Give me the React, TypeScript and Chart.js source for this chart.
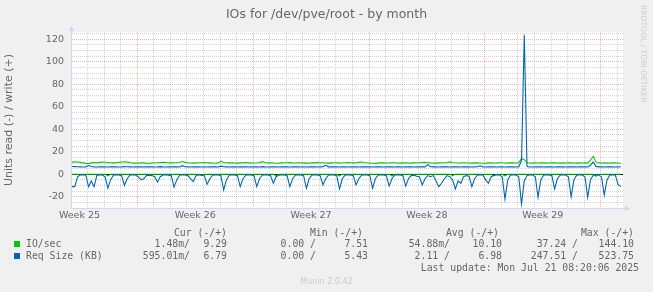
import React, { useEffect, useRef } from 'react';
import { Chart, registerables } from 'chart.js';

Chart.register(...registerables);

// ---- time axis (days, 0 = Monday of Week 26) ----
const START_DAY = -3.95;
const STEP_DAY = 4 / 24; // one sample every 4 hours
const X_MIN = -3.95;
const X_MAX = 29.35;
const Y_MIN = -30;
const Y_MAX = 126.5;

// ---- series (one value per 4h sample) ----
const IO_WRITE = [
  10.8, 11.0, 10.9, 10.6, 10.2, 9.7, 9.6, 10.1, 10.4, 10.3, 10.6, 10.8,
  10.7, 10.5, 10.2, 10.1, 10.3, 10.6, 10.9, 11.1, 10.8, 10.4, 10.0, 9.9,
  10.0, 10.2, 10.1, 9.8, 9.7, 10.0, 10.3, 10.2, 10.4, 10.6, 10.5, 10.2,
  10.1, 10.3, 10.4, 10.7, 11.3, 10.6, 10.2, 10.0, 9.9, 10.1, 10.3, 10.2,
  10.4, 10.2, 10.1, 10.0, 9.8, 10.1, 11.5, 10.4, 10.2, 10.1, 10.3, 10.0,
  9.9, 10.1, 10.2, 10.4, 10.3, 10.1, 10.0, 10.2, 10.5, 11.2, 10.4, 10.1,
  10.2, 10.0, 9.8, 9.9, 10.1, 10.3, 10.2, 10.4, 10.1, 10.0, 10.2, 10.3,
  10.1, 9.9, 10.0, 10.2, 10.1, 10.4, 10.3, 10.2, 10.0, 9.9, 10.1, 10.2,
  10.3, 10.1, 10.0, 10.2, 10.4, 10.2, 10.1, 10.3, 10.6, 10.9, 10.4, 10.2,
  10.0, 9.8, 9.7, 9.9, 10.1, 10.2, 10.0, 10.1, 10.3, 10.2, 10.0, 9.9,
  10.1, 10.2, 10.0, 9.9, 10.1, 10.3, 10.2, 10.4, 10.6, 10.3, 10.1, 10.0,
  9.9, 10.1, 10.3, 10.2, 10.4, 11.0, 10.5, 10.2, 10.0, 10.1, 10.3, 10.2,
  10.0, 9.9, 10.1, 10.2, 10.0, 9.8, 9.9, 10.1, 10.2, 10.0, 10.1, 10.3,
  10.2, 10.0, 9.9, 10.1, 10.2, 10.0, 10.3, 14.0, 13.0, 10.2, 10.0, 9.9,
  10.1, 10.0, 10.2, 10.1, 9.9, 10.0, 10.2, 10.1, 10.0, 9.9, 10.1, 10.0,
  10.1, 10.2, 10.0, 9.9, 10.1, 10.0, 10.2, 10.1, 12.5, 16.0, 11.0, 10.1,
  10.0, 10.1, 9.9, 10.0, 10.2, 10.1, 10.0, 9.8,
];

const IO_READ = [
  0, 0, 0, 0, 0, 0, 0, 0, 0, 0, 0, 0,
  0, -1.5, 0, 0, 0, 0, 0, 0, 0, 0, 0, 0,
  0, 0, 0, 0, 0, 0, 0, 0, 0, 0, 0, 0,
  0, 0, 0, 0, 0, 0, 0, 0, 0, 0, 0, -1.2,
  0, 0, 0, 0, 0, 0, 0, 0, 0, 0, 0, 0,
  0, 0, 0, 0, 0, 0, 0, 0, 0, 0, 0, 0,
  0, 0, -1.5, 0, 0, 0, 0, 0, 0, 0, 0, 0,
  0, 0, 0, 0, 0, 0, 0, 0, 0, 0, 0, 0,
  0, -1.5, 0, 0, 0, 0, 0, 0, 0, 0, 0, 0,
  0, 0, 0, 0, 0, 0, 0, 0, -1.5, 0, 0, 0,
  0, 0, 0, 0, 0, 0, 0, 0, 0, 0, 0, 0,
  0, 0, 0, 0, 0, 0, -1.2, 0, 0, 0, 0, 0,
  0, 0, 0, 0, 0, 0, 0, 0, 0, -1.5, 0, 0,
  0, -1.5, 0, 0, 0, 0, 0, 0, 0, 0, 0, 0,
  0, 0, 0, 0, 0, 0, 0, 0, 0, 0, 0, 0,
  0, 0, 0, 0, 0, 0, 0, 0, 0, 0, -1.8, 0,
  0, 0, 0, 0, 0, 0, 0, 0,
];

const SIZE_WRITE = [
  6.9, 6.8, 6.7, 6.6, 6.5, 6.6, 7.8, 6.9, 6.6, 6.5, 6.6, 6.7,
  6.6, 6.5, 6.6, 6.7, 6.6, 6.5, 6.6, 6.8, 6.7, 6.6, 6.5, 6.6,
  6.7, 6.6, 6.5, 6.6, 6.7, 6.6, 6.5, 6.6, 6.8, 6.6, 6.5, 6.6,
  6.6, 6.7, 6.6, 6.5, 7.6, 6.7, 6.6, 6.5, 6.6, 6.7, 6.6, 6.5,
  6.6, 6.5, 6.6, 6.7, 6.6, 6.5, 7.2, 6.7, 6.6, 6.5, 6.6, 6.6,
  6.5, 6.6, 6.7, 6.6, 6.5, 6.6, 6.7, 6.6, 6.5, 6.8, 6.6, 6.5,
  6.6, 6.7, 6.6, 6.5, 6.6, 6.7, 6.6, 6.5, 6.6, 6.7, 6.6, 6.5,
  6.6, 6.5, 6.6, 6.7, 6.6, 6.5, 6.6, 6.7, 8.0, 6.6, 6.6, 6.7,
  6.6, 6.5, 6.7, 6.6, 6.5, 6.6, 6.7, 6.6, 6.5, 6.6, 6.6, 6.7,
  6.6, 6.5, 6.6, 6.7, 6.6, 6.5, 6.6, 6.7, 6.6, 6.5, 6.6, 6.6,
  6.5, 6.6, 6.7, 6.6, 6.5, 6.6, 6.7, 6.6, 6.6, 8.6, 6.7, 6.6,
  6.6, 6.5, 6.6, 6.7, 6.6, 6.5, 6.6, 6.7, 6.6, 6.5, 6.6, 6.7,
  6.6, 6.5, 6.6, 6.7, 7.6, 6.6, 6.5, 6.6, 6.7, 6.6, 6.5, 6.6,
  6.6, 6.5, 6.6, 6.7, 6.6, 6.5, 6.6, 12.0, 124.0, 6.8, 6.6, 6.5,
  6.6, 6.7, 6.6, 6.5, 6.6, 6.7, 6.6, 6.5, 6.6, 6.7, 6.6, 6.5,
  6.6, 6.7, 6.6, 6.5, 6.6, 6.7, 6.6, 6.5, 8.0, 11.0, 7.0, 6.6,
  6.6, 6.5, 6.6, 6.7, 6.6, 6.5, 6.6, 6.7,
];

const SIZE_READ = [
  -11, -11, -2.2, -0.6, -0.4, -0.8, -11, -6, -11, -1.2, -0.4, -0.6,
  -2.2, -12.5, -5, -0.8, -0.4, -0.6, -1.2, -10, -4, -0.8, -0.4, -0.6,
  -2.2, -5, -4, -1.2, -0.8, -1.2, -2.2, -7, -2.2, -0.6, -0.4, -0.8,
  -1.2, -11.5, -5, -0.8, -0.4, -0.6, -1.2, -4, -6.5, -1.2, -0.4, -0.6,
  -1.2, -9, -4, -0.8, -0.4, -0.6, -1.2, -14, -5, -0.8, -0.4, -0.6,
  -1.2, -11, -4, -0.8, -0.4, -0.6, -1.2, -11, -4, -0.8, -0.4, -0.6,
  -1.2, -8, -2.2, -0.8, -0.4, -0.6, -1.2, -11, -4, -0.8, -0.4, -0.6,
  -1.2, -12.5, -4, -0.8, -0.4, -0.6, -1.2, -9.5, -4, -0.8, -0.4, -0.6,
  -1.2, -13, -4, -0.8, -0.4, -0.6, -1.2, -9.5, -4, -0.8, -0.4, -0.6,
  -1.2, -12.5, -4, -0.8, -0.4, -0.6, -1.2, -10.5, -4, -0.8, -0.4, -0.6,
  -1.2, -10.5, -4, -1.2, -0.8, -1.8, -2.2, -9.5, -4, -1.2, -2.2, -1.2,
  -6, -11, -8, -4, -1.2, -2.2, -5, -13, -6, -8, -2.2, -1.2,
  -1.8, -11, -4, -0.8, -0.4, -0.6, -5, -8, -2.2, -0.8, -0.4, -0.6,
  -2.2, -22, -5, -0.8, -0.4, -0.6, -2.2, -26.4, -6, -1.2, -0.4, -0.6,
  -2.2, -20.5, -5, -0.8, -0.4, -0.6, -1.2, -13, -4, -0.8, -0.4, -0.6,
  -2.2, -20, -5, -0.8, -0.4, -0.6, -2.2, -20.5, -5, -0.8, -0.4, -0.6,
  -2.2, -18.5, -5, -0.8, -0.4, -0.6, -9, -11,
];

// ---- axis ticks ----
const DAY_LINES = [-3, -2, -1, 0, 1, 2, 3, 4, 5, 6, 7, 8, 9, 10, 11, 12, 13, 14, 15, 16, 17, 18, 19, 20, 21, 22, 23, 24, 25, 26, 27, 28, 29];
const WEEK_LABEL_POS = [-3.5, 3.5, 10.5, 17.5, 24.5];
const WEEK_LABELS = ['Week 25', 'Week 26', 'Week 27', 'Week 28', 'Week 29'];
const Y_LINES = [-30, -25, -20, -15, -10, -5, 0, 5, 10, 15, 20, 25, 30, 35, 40, 45, 50, 55, 60, 65, 70, 75, 80, 85, 90, 95, 100, 105, 110, 115, 120, 125];

// ---- legend texts ----
const LEGEND_HEADERS = ['Cur (-/+)', 'Min (-/+)', 'Avg (-/+)', 'Max (-/+)'];
const IO_STATS = ['1.48m/', '9.29', '0.00 /', '7.51', '54.88m/', '10.10', '37.24 /', '144.10'];
const SIZE_STATS = ['595.01m/', '6.79', '0.00 /', '5.43', '2.11 /', '6.98', '247.51 /', '523.75'];

const GREEN = '#00CC00';
const BLUE = '#0066B3';
const FONT_COLOR = '#666666';
const AXIS_COLOR = '#CFD6F8';
const GRID = 'rgba(143,143,143,0.38)';
const MGRID = 'rgba(222,79,79,0.42)';
const SANS = "'DejaVu Sans', sans-serif";
const MONO = "'DejaVu Sans Mono', monospace";

const toPoints = (vals: number[]) => vals.map((y, i) => ({ x: START_DAY + i * STEP_DAY, y }));

const framePlugin = {
  id: 'frame',
  beforeDraw(chart: any) {
    const { ctx, chartArea: a } = chart;
    ctx.save();
    ctx.fillStyle = '#FFFFFF';
    ctx.fillRect(a.left, a.top, a.right - a.left, a.bottom - a.top);
    ctx.restore();
  },
  afterDraw(chart: any) {
    const { ctx, chartArea: a } = chart;
    const lx = a.left - 0.5;
    const by = a.bottom + 0.5;
    ctx.save();
    ctx.strokeStyle = AXIS_COLOR;
    ctx.fillStyle = AXIS_COLOR;
    ctx.lineWidth = 1;
    ctx.beginPath();
    ctx.moveTo(lx, by);
    ctx.lineTo(lx, a.top - 1);
    ctx.moveTo(lx, by);
    ctx.lineTo(a.right + 2, by);
    ctx.stroke();
    ctx.beginPath();
    ctx.moveTo(lx - 3, a.top - 1);
    ctx.lineTo(lx + 3, a.top - 1);
    ctx.lineTo(lx, a.top - 6);
    ctx.closePath();
    ctx.fill();
    ctx.beginPath();
    ctx.moveTo(a.right + 2, by - 3);
    ctx.lineTo(a.right + 2, by + 3);
    ctx.lineTo(a.right + 7, by);
    ctx.closePath();
    ctx.fill();
    ctx.restore();
  },
};

const STAT_RIGHT = [190, 227, 316, 368, 450, 502, 578, 634];
const HEADER_RIGHT = [227, 363, 499, 634];

export default function App() {
  const ref = useRef<HTMLCanvasElement>(null);

  useEffect(() => {
    const canvas = ref.current;
    if (!canvas) return;
    const common = { pointRadius: 0, borderWidth: 1.1, tension: 0, fill: false };
    const chart = new Chart(canvas, {
      type: 'line',
      data: {
        datasets: [
          { label: 'Req Size write', data: toPoints(SIZE_WRITE), borderColor: BLUE, ...common },
          { label: 'Req Size read', data: toPoints(SIZE_READ), borderColor: BLUE, ...common },
          { label: 'IO/sec write', data: toPoints(IO_WRITE), borderColor: GREEN, ...common },
          { label: 'IO/sec read', data: toPoints(IO_READ), borderColor: GREEN, ...common },
        ],
      },
      options: {
        animation: false,
        responsive: false,
        maintainAspectRatio: false,
        devicePixelRatio: 1,
        layout: { padding: { left: 0, right: 30, top: 32, bottom: 64 } },
        plugins: { legend: { display: false }, tooltip: { enabled: false }, title: { display: false } },
        scales: {
          x: {
            type: 'linear',
            min: X_MIN,
            max: X_MAX,
            afterBuildTicks: (s: any) => {
              s.ticks = [...DAY_LINES, ...WEEK_LABEL_POS].sort((p, q) => p - q).map((v) => ({ value: v }));
            },
            afterFit: (s: any) => {
              s.height = 20;
            },
            grid: {
              drawTicks: false,
              lineWidth: 1,
              color: (c: any) => {
                const v = c.tick ? c.tick.value : NaN;
                if (WEEK_LABEL_POS.includes(v)) return 'rgba(0,0,0,0)';
                return v % 7 === 0 ? MGRID : GRID;
              },
            },
            border: { display: false, dash: [1, 1] },
            ticks: {
              autoSkip: false,
              maxRotation: 0,
              minRotation: 0,
              padding: 2,
              color: FONT_COLOR,
              font: { family: SANS, size: 9.5 },
              callback: (v: any) => {
                const i = WEEK_LABEL_POS.indexOf(Number(v));
                return i >= 0 ? WEEK_LABELS[i] : '';
              },
            },
          },
          y: {
            type: 'linear',
            min: Y_MIN,
            max: Y_MAX,
            afterBuildTicks: (s: any) => {
              s.ticks = Y_LINES.map((v) => ({ value: v }));
            },
            afterFit: (s: any) => {
              s.width = 72;
            },
            grid: {
              drawTicks: false,
              lineWidth: 1,
              color: (c: any) => {
                const v = c.tick ? c.tick.value : NaN;
                if (v === 0) return '#000000';
                return v % 20 === 0 ? MGRID : GRID;
              },
            },
            border: {
              display: false,
              dash: (c: any) => (c.tick && c.tick.value === 0 ? [] : [1, 1]),
            },
            ticks: {
              autoSkip: false,
              padding: 8,
              color: FONT_COLOR,
              font: { family: SANS, size: 9.5 },
              callback: (v: any) => (Number(v) % 20 === 0 ? String(v) : ''),
            },
            title: {
              display: true,
              text: 'Units read (-) / write (+)',
              color: FONT_COLOR,
              font: { family: SANS, size: 11 },
              padding: { top: 3, bottom: 0 },
            },
          },
        },
      },
      plugins: [framePlugin],
    } as any);
    return () => chart.destroy();
  }, []);

  const abs = (extra: React.CSSProperties): React.CSSProperties => ({ position: 'absolute', whiteSpace: 'pre', ...extra });
  const mono: React.CSSProperties = { fontFamily: MONO, fontSize: '9.8px', lineHeight: '12px', color: FONT_COLOR };

  return (
    <div
      style={{
        position: 'fixed',
        left: 0,
        top: 0,
        width: 653,
        height: 292,
        background: '#F0F0F0',
        overflow: 'hidden',
        fontFamily: SANS,
      }}
    >
      <canvas ref={ref} width={653} height={292} style={{ position: 'absolute', left: 0, top: 0 }} />
      <div style={abs({ left: 0, top: 6, width: 653, textAlign: 'center', fontSize: '12.5px', lineHeight: '15px', color: FONT_COLOR })}>
        IOs for /dev/pve/root - by month
      </div>
      <div
        style={abs({
          left: 638,
          top: 5,
          writingMode: 'vertical-rl',
          fontSize: '7.6px',
          lineHeight: '10px',
          color: '#CCCCCC',
        })}
      >
        RRDTOOL / TOBI OETIKER
      </div>
      {LEGEND_HEADERS.map((h, i) => (
        <div key={h} style={abs({ ...mono, right: 653 - HEADER_RIGHT[i], top: 227 })}>
          {h}
        </div>
      ))}
      <div style={abs({ left: 14, top: 241, width: 6, height: 6, background: GREEN })} />
      <div style={abs({ ...mono, left: 26, top: 238 })}>IO/sec</div>
      {IO_STATS.map((s, i) => (
        <div key={'io' + i} style={abs({ ...mono, right: 653 - STAT_RIGHT[i], top: 238 })}>
          {s}
        </div>
      ))}
      <div style={abs({ left: 14, top: 253, width: 6, height: 6, background: BLUE })} />
      <div style={abs({ ...mono, left: 26, top: 250 })}>Req Size (KB)</div>
      {SIZE_STATS.map((s, i) => (
        <div key={'sz' + i} style={abs({ ...mono, right: 653 - STAT_RIGHT[i], top: 250 })}>
          {s}
        </div>
      ))}
      <div style={abs({ ...mono, right: 653 - 639, top: 262 })}>Last update: Mon Jul 21 08:20:06 2025</div>
      <div style={abs({ left: 0, width: 653, textAlign: 'center', top: 276, fontSize: '8px', lineHeight: '11px', color: '#CCCCCC' })}>
        Munin 2.0.42
      </div>
    </div>
  );
}
